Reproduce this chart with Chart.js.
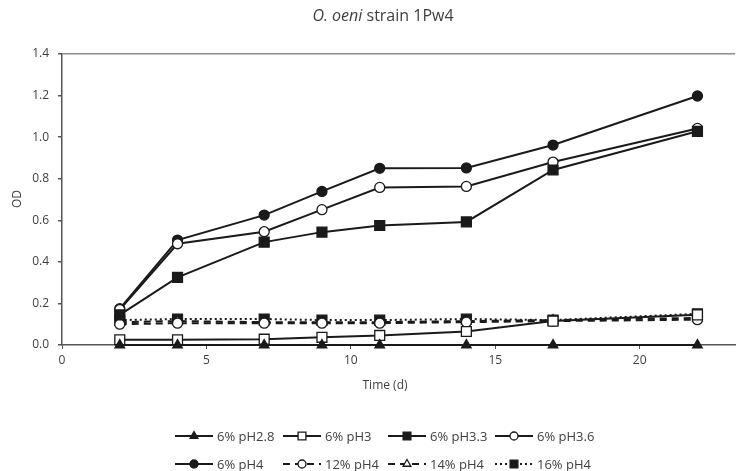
<!DOCTYPE html>
<html>
<head>
<meta charset="utf-8">
<script src="https://cdn.jsdelivr.net/npm/chart.js@4.4.0/dist/chart.umd.min.js"></script>
<style>
    html, body { margin: 0; padding: 0; background: #fff; }
</style>
</head>
<body>
<canvas id="myChart" width="746" height="471"></canvas>
<script>
// time points (d)
const days = [2, 4, 7, 9, 11, 14, 17, 22]

// OD readings
const ph28_6 = [0, 0, 0, 0, 0, 0, 0, 0]
const ph3_6 = [0.025, 0.025, 0.028, 0.037, 0.046, 0.065, 0.115, 0.145]
const ph33_6 = [0.145, 0.325, 0.495, 0.543, 0.575, 0.592, 0.842, 1.028]
const ph36_6 = [0.17, 0.487, 0.545, 0.651, 0.758, 0.763, 0.880, 1.042]
const ph4_6 = [0.175, 0.505, 0.625, 0.739, 0.850, 0.852, 0.962, 1.198]
const ph4_12 = [0.10, 0.105, 0.105, 0.105, 0.105, 0.11, 0.115, 0.122]
const ph4_14 = [0.11, 0.115, 0.11, 0.11, 0.11, 0.115, 0.12, 0.13]
const ph4_16 = [0.12, 0.125, 0.125, 0.12, 0.12, 0.125, 0.12, 0.15]

const seriesNames = ['6% pH2.8', '6% pH3', '6% pH3.3', '6% pH3.6', '6% pH4', '12% pH4', '14% pH4', '16% pH4']
const yTicks = [0, 0.2, 0.4, 0.6, 0.8, 1.0, 1.2, 1.4]
const xTicks = [0, 5, 10, 15, 20]

const ink = '#1a1a1a'
const textCol = '#404040'
const fontFam = "'Open Sans', 'Liberation Sans', sans-serif"

const pts = (arr) => days.map((d, i) => ({ x: d, y: arr[i] }))

// marker radius per style so they come out about the same size
const markerSize = { circle: 5, rect: 7, triangle: 5.5 }
const legendSize = { circle: 4, rect: 5.5, triangle: 4.5 }

function series(label, arr, marker, filled, dash) {
    return {
        label: label,
        data: pts(arr),
        borderColor: ink,
        borderWidth: 2,
        borderDash: dash,
        pointStyle: marker,
        pointRadius: markerSize[marker],
        pointBackgroundColor: filled ? ink : '#ffffff',
        pointBorderColor: ink,
        pointBorderWidth: 1.3,
        tension: 0,
        fill: false,
        clip: false
    }
}

const datasets = [
    series(seriesNames[0], ph28_6, 'triangle', true, []),
    series(seriesNames[1], ph3_6, 'rect', false, []),
    series(seriesNames[2], ph33_6, 'rect', true, []),
    series(seriesNames[3], ph36_6, 'circle', false, []),
    series(seriesNames[4], ph4_6, 'circle', true, []),
    series(seriesNames[5], ph4_12, 'circle', false, [7, 5]),
    series(seriesNames[6], ph4_14, 'triangle', false, [7, 5]),
    series(seriesNames[7], ph4_16, 'rect', true, [2, 3])
]

// title, axis titles and the two-row legend (line + marker)
const extras = {
    id: 'extras',
    afterDraw(chart) {
        const ctx = chart.ctx
        ctx.save()
        ctx.fillStyle = textCol
        ctx.textBaseline = 'middle'

        // title with italic species name
        const t1 = 'O. oeni', t2 = ' strain 1Pw4'
        ctx.font = 'italic 16px ' + fontFam
        const w1 = ctx.measureText(t1).width
        ctx.font = '16px ' + fontFam
        const w2 = ctx.measureText(t2).width
        let tx = 383 - (w1 + w2) / 2
        ctx.textAlign = 'left'
        ctx.font = 'italic 16px ' + fontFam
        ctx.fillText(t1, tx, 16)
        ctx.font = '16px ' + fontFam
        ctx.fillText(t2, tx + w1, 16)

        // axis titles
        ctx.font = '12px ' + fontFam
        ctx.textAlign = 'center'
        ctx.fillText('Time (d)', 385, 386)
        ctx.save()
        ctx.translate(18, 199)
        ctx.rotate(-Math.PI / 2)
        ctx.fillText('OD', 0, 0)
        ctx.restore()

        // legend
        const cols = [175, 283, 388, 495]
        const rows = [436, 464]
        ctx.font = '13px ' + fontFam
        chart.data.datasets.forEach((ds, i) => {
            const x0 = cols[i % 4]
            const y0 = rows[Math.floor(i / 4)]
            ctx.strokeStyle = ink
            ctx.lineWidth = 2
            ctx.setLineDash(ds.borderDash)
            ctx.beginPath()
            ctx.moveTo(x0, y0)
            ctx.lineTo(x0 + 38, y0)
            ctx.stroke()
            ctx.setLineDash([])
            ctx.fillStyle = ds.pointBackgroundColor
            ctx.strokeStyle = ink
            ctx.lineWidth = 1.3
            Chart.helpers.drawPoint(ctx, {
                pointStyle: ds.pointStyle,
                radius: legendSize[ds.pointStyle],
                rotation: 0,
                borderWidth: 1.3
            }, x0 + 19, y0)
            ctx.fillStyle = textCol
            ctx.textAlign = 'left'
            ctx.fillText(ds.label, x0 + 42, y0 + 1)
        })
        ctx.restore()
    }
}

const ctx = document.getElementById('myChart').getContext('2d')
const myChart = new Chart(ctx, {
    type: 'line',
    data: { datasets: datasets },
    options: {
        responsive: false,
        animation: false,
        layout: { padding: { top: 54, right: 11, left: 0, bottom: 0 } },
        plugins: {
            legend: { display: false },
            title: { display: false },
            tooltip: { enabled: false }
        },
        scales: {
            x: {
                type: 'linear',
                min: 0,
                max: 23.3,
                afterFit: (scale) => { scale.height = 126 },
                afterBuildTicks: (scale) => { scale.ticks = xTicks.map(v => ({ value: v })) },
                ticks: {
                    includeBounds: false,
                    color: textCol,
                    font: { family: fontFam, size: 12 },
                    padding: 4,
                    maxRotation: 0
                },
                grid: {
                    drawOnChartArea: false,
                    drawTicks: true,
                    tickLength: 4,
                    color: '#555'
                },
                border: { color: '#555', width: 1.5 }
            },
            y: {
                min: 0,
                max: 1.4,
                afterFit: (scale) => { scale.width = 62 },
                afterBuildTicks: (scale) => { scale.ticks = yTicks.map(v => ({ value: v })) },
                ticks: {
                    color: textCol,
                    font: { family: fontFam, size: 12 },
                    padding: 9,
                    callback: (v) => Number(v).toFixed(1)
                },
                grid: {
                    color: (c) => (c.tick && c.tick.value === 1.4) ? '#8c8c8c' : 'rgba(0,0,0,0)',
                    tickColor: '#555',
                    tickLength: 4,
                    lineWidth: 1.5
                },
                border: { color: '#555', width: 1.5 }
            }
        }
    },
    plugins: [extras]
})
</script>
</body>
</html>
